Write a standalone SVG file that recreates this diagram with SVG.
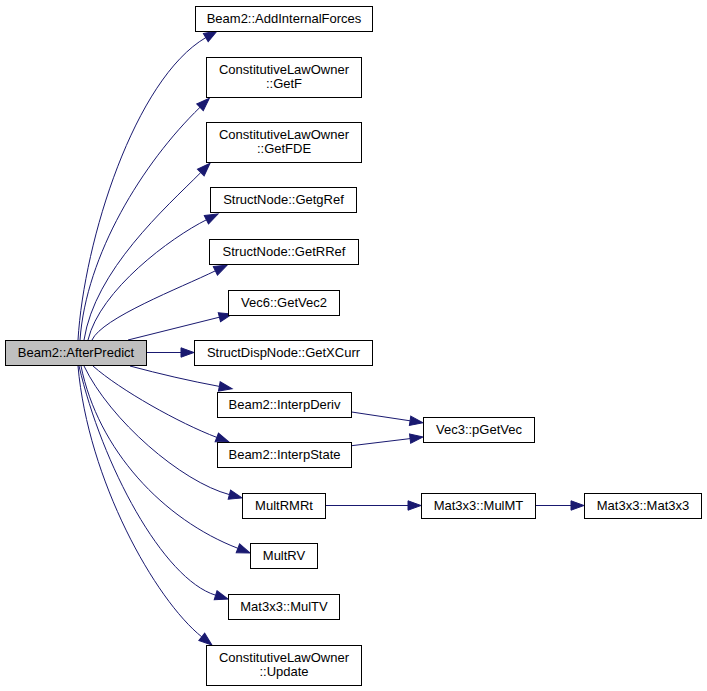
<svg xmlns="http://www.w3.org/2000/svg" width="707" height="691" viewBox="0 0 707 691">
<style>
.node rect{fill:#ffffff;stroke:#000000;stroke-width:1}
.node.root rect{fill:#bfbfbf}
.node text{font-family:"Liberation Sans",Arial,sans-serif;font-size:13px;fill:#000000;text-anchor:middle}
.edges path{fill:none;stroke:#191970;stroke-width:1;marker-end:url(#arrow)}
</style>
<defs>
<marker id="arrow" markerUnits="userSpaceOnUse" markerWidth="14" markerHeight="10" refX="0" refY="5" orient="auto" overflow="visible">
<path d="M0,0.3 L13,5 L0,9.7 Z" fill="#191970" stroke="#191970" stroke-width="1"/>
</marker>
</defs>
<rect width="707" height="691" fill="#ffffff"/>
<g id="edges" class="edges">
<path d="M78,340 C84,240 135,79 205.8,37.6"/>
<path d="M80,340 C86,255 142.5,163.1 200,107.3"/>
<path d="M84,340 C95,270 165.5,207.9 200.8,172.5"/>
<path d="M88,340 C100,290 170.6,237.7 206.4,219.8"/>
<path d="M92,340 C102,318 180,288 215.4,270.8"/>
<path d="M128,340 L219.4,317.2"/>
<path d="M146,352.5 L181,352.5"/>
<path d="M130,366 C160,374 190,381 219.3,386.4"/>
<path d="M93,366 C120,390 179.4,423.2 216.8,437.4"/>
<path d="M84,366 C110,420 181,481.7 229.4,494.6"/>
<path d="M81,366 C98,450 163.3,519.6 237.9,548.3"/>
<path d="M79,366 C102,465 163,579 215.6,595.2"/>
<path d="M78,366 C88,480 155,599.4 201.8,636.9"/>
<path d="M351.7,412 L410.1,420.8"/>
<path d="M351.7,445.7 L410.1,438.6"/>
<path d="M325,505.5 L408,505.5"/>
<path d="M535,505.5 L571,505.5"/>
</g>
<g id="node-AfterPredict" class="node root"><rect x="5.5" y="340.5" width="141" height="25"/><text x="76" y="357">Beam2::AfterPredict</text></g>
<g id="node-AddInternalForces" class="node"><rect x="195.5" y="6.5" width="177" height="25"/><text x="284" y="23">Beam2::AddInternalForces</text></g>
<g id="node-GetF" class="node"><rect x="206.5" y="57.5" width="155" height="40"/><text x="284" y="73.5">ConstitutiveLawOwner</text><text x="284" y="88">::GetF</text></g>
<g id="node-GetFDE" class="node"><rect x="206.5" y="122.5" width="155" height="40"/><text x="284" y="138.5">ConstitutiveLawOwner</text><text x="284" y="153">::GetFDE</text></g>
<g id="node-GetgRef" class="node"><rect x="210.5" y="187.5" width="146" height="25"/><text x="283.5" y="204">StructNode::GetgRef</text></g>
<g id="node-GetRRef" class="node"><rect x="209.5" y="239.5" width="149" height="25"/><text x="284" y="256">StructNode::GetRRef</text></g>
<g id="node-GetVec2" class="node"><rect x="228.5" y="290.5" width="111" height="25"/><text x="284" y="307">Vec6::GetVec2</text></g>
<g id="node-GetXCurr" class="node"><rect x="194.5" y="340.5" width="178" height="25"/><text x="283.5" y="357">StructDispNode::GetXCurr</text></g>
<g id="node-InterpDeriv" class="node"><rect x="217.5" y="392.5" width="134" height="25"/><text x="284.5" y="409">Beam2::InterpDeriv</text></g>
<g id="node-InterpState" class="node"><rect x="217.5" y="442.5" width="134" height="25"/><text x="284.5" y="459">Beam2::InterpState</text></g>
<g id="node-MultRMRt" class="node"><rect x="242.5" y="493.5" width="83" height="25"/><text x="284" y="510">MultRMRt</text></g>
<g id="node-MultRV" class="node"><rect x="250.5" y="543.5" width="67" height="25"/><text x="284" y="560">MultRV</text></g>
<g id="node-MulTV" class="node"><rect x="228.5" y="594.5" width="111" height="25"/><text x="284" y="611">Mat3x3::MulTV</text></g>
<g id="node-Update" class="node"><rect x="206.5" y="645.5" width="155" height="40"/><text x="284" y="661.5">ConstitutiveLawOwner</text><text x="284" y="676">::Update</text></g>
<g id="node-pGetVec" class="node"><rect x="423.5" y="417.5" width="111" height="25"/><text x="479" y="434">Vec3::pGetVec</text></g>
<g id="node-MulMT" class="node"><rect x="421.5" y="493.5" width="114" height="25"/><text x="478.5" y="510">Mat3x3::MulMT</text></g>
<g id="node-Mat3x3" class="node"><rect x="584.5" y="493.5" width="117" height="25"/><text x="643" y="510">Mat3x3::Mat3x3</text></g>
</svg>
